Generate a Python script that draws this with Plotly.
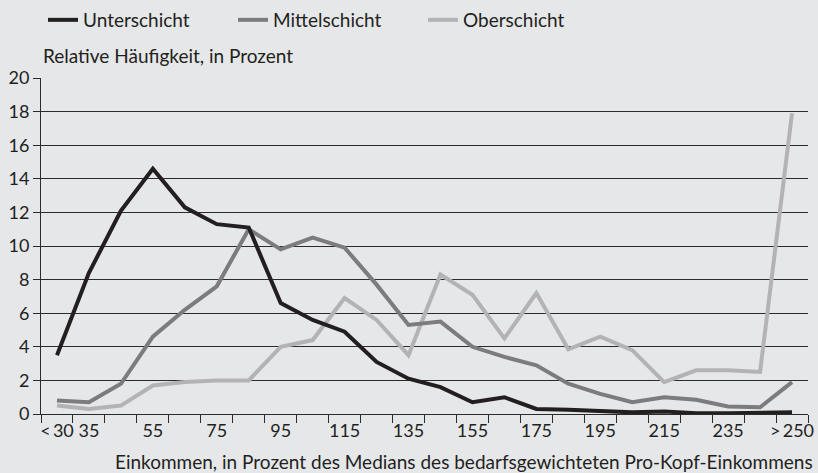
import plotly.graph_objects as go

categories = ['<\u200930', '35', '45', '55', '65', '75', '85', '95', '105', '115', '125', '135',
              '145', '155', '165', '175', '185', '195', '205', '215', '225', '235', '245', '>\u2009250']
labeled = ['<\u200930', '35', '55', '75', '95', '115', '135', '155', '175', '195', '215', '235', '>\u2009250']

unterschicht = [3.5, 8.4, 12.1, 14.6, 12.3, 11.3, 11.1, 6.6, 5.6, 4.9, 3.1, 2.1,
                1.6, 0.7, 1.0, 0.3, 0.25, 0.15, 0.1, 0.15, 0.05, 0.05, 0.1, 0.1]
mittelschicht = [0.8, 0.7, 1.8, 4.6, 6.2, 7.6, 11.0, 9.8, 10.5, 9.9, 7.7, 5.3,
                 5.5, 4.0, 3.4, 2.9, 1.8, 1.2, 0.7, 1.0, 0.85, 0.45, 0.4, 1.9]
oberschicht = [0.5, 0.3, 0.5, 1.7, 1.9, 2.0, 2.0, 4.0, 4.4, 6.9, 5.6, 3.5,
               8.3, 7.1, 4.5, 7.2, 3.85, 4.6, 3.8, 1.9, 2.6, 2.6, 2.5, 17.9]

y_ticks = [0, 2, 4, 6, 8, 10, 12, 14, 16, 18, 20]

TEXT = '#231f20'
BG = '#e6e7e9'
FONT = 'Lato'

x_idx = list(range(len(categories)))
label_idx = [categories.index(c) for c in labeled]

fig = go.Figure()
series = [('Oberschicht', oberschicht, '#b3b3b5'),
          ('Mittelschicht', mittelschicht, '#7c7c7e'),
          ('Unterschicht', unterschicht, '#231f20')]
for name, values, color in series:
    fig.add_trace(go.Scatter(x=x_idx, y=values, mode='lines', name=name,
                             line=dict(color=color, width=4), hoverinfo='skip'))

fig.update_layout(
    width=818, height=473,
    paper_bgcolor=BG, plot_bgcolor=BG,
    margin=dict(l=41, r=10, t=78, b=59, autoexpand=False),
    font=dict(family=FONT, size=19, color=TEXT),
    showlegend=True,
    legend=dict(orientation='h', traceorder='reversed',
                xref='container', x=43 / 818, xanchor='left',
                yref='container', y=1 - 20 / 473, yanchor='middle',
                entrywidth=145, entrywidthmode='pixels',
                font=dict(size=19, color=TEXT), bgcolor='rgba(0,0,0,0)'),
)

fig.update_xaxes(
    range=[-0.5, len(categories) - 0.5], automargin=False,
    tickmode='array', tickvals=label_idx, ticktext=labeled, ticks='', tickangle=0,
    tickfont=dict(size=18, color=TEXT),
    showgrid=False, zeroline=False,
    showline=True, linecolor='#2b2b2b', linewidth=1,
    minor=dict(tickmode='array', tickvals=[i - 0.5 for i in range(len(categories) + 1)],
               ticks='outside', ticklen=8, tickwidth=1, tickcolor='#2b2b2b', showgrid=False),
)
fig.update_yaxes(
    range=[0, 20], automargin=False, tickmode='array', tickvals=y_ticks,
    ticks='outside', ticklen=7, tickcolor='#2b2b2b', tickwidth=1,
    tickfont=dict(size=18, color=TEXT),
    showgrid=True, gridcolor='#2b2b2b', gridwidth=1,
    zeroline=False, showline=True, linecolor='#2b2b2b', linewidth=1,
)

fig.add_annotation(text='Relative Häufigkeit, in Prozent', xref='paper', yref='paper',
                   x=0, y=1.068, xanchor='left', yanchor='middle', showarrow=False,
                   font=dict(size=19, color=TEXT))
fig.add_annotation(text='Einkommen, in Prozent des Medians des bedarfsgewichteten Pro-Kopf-Einkommens',
                   xref='paper', yref='paper', x=1, xshift=7, y=-0.14,
                   xanchor='right', yanchor='middle', showarrow=False,
                   font=dict(size=19, color=TEXT))

fig.write_html('out.html', config={'displayModeBar': False},
               post_script="document.body.style.margin='0px';")
